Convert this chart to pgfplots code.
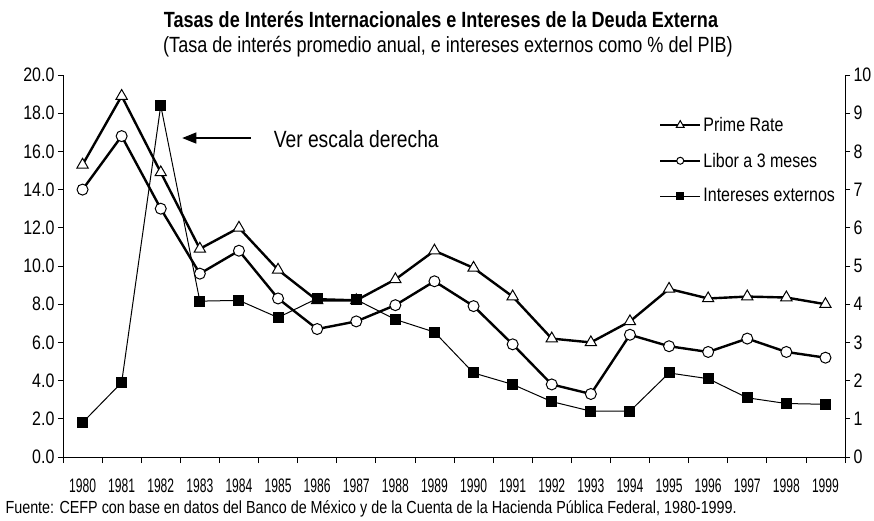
\documentclass[border=0pt]{standalone}
\usepackage{fontspec}
\setmainfont{Liberation Sans}[FakeStretch=0.82]
\newfontfamily\yearfont{Liberation Sans}[FakeStretch=0.62]
\usepackage{pgfplots}
\pgfplotsset{compat=1.18}
\usetikzlibrary{arrows.meta}
\begin{document}
\begin{tikzpicture}[x=1pt,y=1pt]
\path[use as bounding box] (-63,-63) rectangle (811,457);
\begin{axis}[
  at={(0,0)}, anchor=south west,
  scale only axis, width=782pt, height=382pt,
  xmin=-0.5, xmax=19.5, ymin=0, ymax=20,
  axis x line*=bottom, axis y line*=left,
  xtick={0,...,19},
  xticklabels={1980,1981,1982,1983,1984,1985,1986,1987,1988,1989,1990,1991,1992,1993,1994,1995,1996,1997,1998,1999},
  major x tick style={draw=none},
  minor xtick={-0.5,0.5,...,19.5},
  minor tick length=6pt,
  tick align=outside,
  major tick length=5pt,
  ytick={0,2,...,20},
  yticklabel style={/pgf/number format/fixed,/pgf/number format/fixed zerofill,/pgf/number format/precision=1,font=\fontsize{19.5}{21}\selectfont},
  /pgf/number format/assume math mode=true,
  xticklabel style={yshift=-13pt,font=\yearfont\fontsize{19.5}{21}\selectfont},
  axis line style={line width=0.8pt},
  tick style={line width=0.8pt,black},
  clip=false,
]
\addplot[black, line width=2.4pt, mark=triangle*, mark size=6.5pt, mark options={fill=white,line width=1pt}] coordinates {
(0,15.3)(1,18.9)(2,14.9)(3,10.9)(4,12.0)(5,9.8)(6,8.2)(7,8.2)(8,9.3)(9,10.8)(10,9.9)(11,8.4)(12,6.2)(13,6.0)(14,7.1)(15,8.8)(16,8.3)(17,8.4)(18,8.35)(19,8.0)};
\addplot[black, line width=2.4pt, mark=*, mark size=5.5pt, mark options={fill=white,line width=1pt}] coordinates {
(0,14.0)(1,16.8)(2,13.0)(3,9.6)(4,10.8)(5,8.3)(6,6.7)(7,7.1)(8,7.95)(9,9.2)(10,7.9)(11,5.9)(12,3.8)(13,3.3)(14,6.4)(15,5.8)(16,5.5)(17,6.2)(18,5.5)(19,5.2)};
\draw[-{Triangle[length=14pt,width=11pt]}, line width=1.2pt] (axis cs:4.3,16.7) -- (axis cs:2.55,16.7);
\node[anchor=west, font=\fontsize{23.5}{25}\selectfont] at (axis cs:4.8,16.65) {Ver escala derecha};
\end{axis}
\begin{axis}[
  at={(0,0)}, anchor=south west,
  scale only axis, width=782pt, height=382pt,
  xmin=-0.5, xmax=19.5, ymin=0, ymax=10,
  axis x line=none, axis y line*=right,
  ytick={0,1,...,10},
  tick align=outside, major tick length=5pt,
  /pgf/number format/assume math mode=true,
  yticklabel style={font=\fontsize{19.5}{21}\selectfont},
  axis line style={line width=0.8pt},
  tick style={line width=0.8pt,black},
  legend style={at={(0.99,0.895)}, anchor=north east, draw=none, fill=none,
    font=\fontsize{19.5}{21}\selectfont, row sep=16pt, inner sep=0pt},
  legend cell align=left,
  legend image code/.code={\draw[mark repeat=2,mark phase=2,#1] plot coordinates {(0pt,0pt) (20pt,0pt) (40pt,0pt)};},
]
\addlegendimage{black, line width=2.4pt, mark=triangle*, mark size=4.5pt, mark options={fill=white,line width=1pt}}
\addlegendentry{Prime Rate}
\addlegendimage{black, line width=2.4pt, mark=*, mark size=3.5pt, mark options={fill=white,line width=1pt}}
\addlegendentry{Libor a 3 meses}
\addlegendimage{black, line width=1pt, mark=square*, mark size=3.5pt}
\addlegendentry{Intereses externos}
\addplot[black, line width=1pt, mark=square*, mark size=5pt, forget plot] coordinates {
(0,0.9)(1,1.95)(2,9.2)(3,4.08)(4,4.1)(5,3.65)(6,4.15)(7,4.12)(8,3.6)(9,3.27)(10,2.2)(11,1.9)(12,1.45)(13,1.2)(14,1.2)(15,2.2)(16,2.05)(17,1.55)(18,1.4)(19,1.38)};
\end{axis}
\node[font=\bfseries\fontsize{22}{24}\selectfont] at (378,437) {Tasas de Interés Internacionales e Intereses de la Deuda Externa};
\node[font=\fontsize{22}{24}\selectfont] at (385,410) {(Tasa de interés promedio anual, e intereses externos como \% del PIB)};
\node[anchor=west, font=\fontsize{17.5}{19}\selectfont] at (-61,-52) {Fuente: CEFP con base en datos del Banco de México y de la Cuenta de la Hacienda Pública Federal, 1980-1999.};
\end{tikzpicture}
\end{document}
